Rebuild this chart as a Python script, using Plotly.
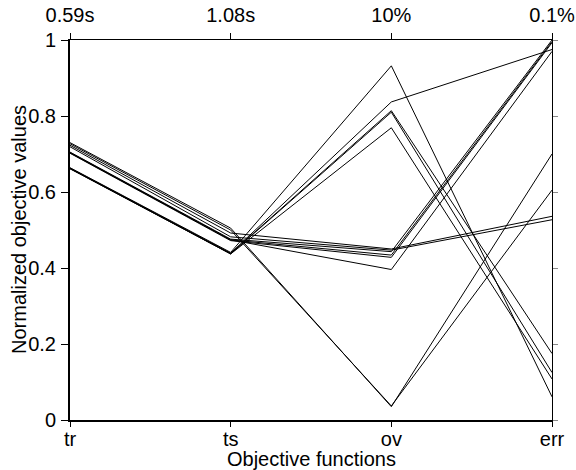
import plotly.graph_objects as go

categories = ["tr", "ts", "ov", "err"]
top_labels = ["0.59s", "1.08s", "10%", "0.1%"]
y_ticks = [0, 0.2, 0.4, 0.6, 0.8, 1]
y_ticktext = ["0", "0.2", "0.4", "0.6", "0.8", "1"]

# normalized objective values for each solution (one entry per line)
tr = [0.730, 0.727, 0.723, 0.719, 0.705, 0.703, 0.702, 0.704, 0.664, 0.663, 0.662, 0.661, 0.662]
ts = [0.505, 0.500, 0.492, 0.482, 0.476, 0.474, 0.472, 0.474, 0.441, 0.439, 0.438, 0.437, 0.437]
ov = [0.035, 0.037, 0.450, 0.447, 0.443, 0.434, 0.428, 0.396, 0.932, 0.837, 0.814, 0.810, 0.769]
err = [0.700, 0.605, 0.536, 0.527, 1.000, 0.996, 0.993, 0.970, 0.061, 0.975, 0.175, 0.125, 0.108]

x_pos = list(range(len(categories)))

fig = go.Figure()
for a, b, c, d in zip(tr, ts, ov, err):
    fig.add_trace(go.Scatter(x=x_pos, y=[a, b, c, d], mode="lines",
                             line=dict(color="black", width=1),
                             showlegend=False, hoverinfo="skip"))

# invisible trace to anchor the secondary axes
fig.add_trace(go.Scatter(x=x_pos, y=[0, 0, 0, 0], xaxis="x2", yaxis="y2",
                         mode="lines", line=dict(width=0), opacity=0,
                         showlegend=False, hoverinfo="skip"))

fam = "Liberation Sans, Arial, sans-serif"
font20 = dict(family=fam, size=20, color="black")

W, H = 576, 470
L, R, T, B = 70, 24, 40, 50
pw, ph = W - L - R, H - T - B

fig.update_layout(
    width=W, height=H,
    margin=dict(l=L, r=R, t=T, b=B, autoexpand=False),
    plot_bgcolor="white", paper_bgcolor="white",
    font=font20,
    xaxis=dict(range=[0, 3], tickvals=x_pos, ticktext=categories,
               ticks="outside", ticklen=5, tickcolor="black",
               showline=True, linecolor="black", linewidth=2,
               showgrid=False, zeroline=False, automargin=False,
               ticklabelstandoff=-5, tickfont=font20),
    xaxis2=dict(range=[0, 3], tickvals=x_pos, ticktext=top_labels,
                overlaying="x", side="top", anchor="y",
                ticks="outside", ticklen=6, tickcolor="black",
                showline=True, linecolor="black", linewidth=1,
                showgrid=False, zeroline=False, automargin=False,
                ticklabelstandoff=3, tickfont=font20),
    yaxis=dict(range=[0, 1], tickvals=y_ticks, ticktext=y_ticktext,
               ticks="outside", ticklen=7, tickcolor="black",
               showline=True, linecolor="black", linewidth=2,
               showgrid=False, zeroline=False, automargin=False,
               ticklabelstandoff=1, tickfont=font20),
    yaxis2=dict(range=[0, 1], tickvals=y_ticks, showticklabels=False,
                overlaying="y", side="right", anchor="x",
                ticks="outside", ticklen=5, tickcolor="#888888",
                showline=True, linecolor="black", linewidth=1,
                showgrid=False, zeroline=False, automargin=False),
    annotations=[
        dict(text="Objective functions", xref="paper", yref="paper",
             x=0.5, y=-(459 - (T + ph)) / ph, xanchor="center", yanchor="middle",
             showarrow=False, font=font20),
        dict(text="Normalized objective values", xref="paper", yref="paper",
             x=(19 - L) / pw, y=0.5, xanchor="center", yanchor="middle",
             textangle=-90, showarrow=False, font=font20),
    ],
)

# remove the default 8px page margin so the figure fills the window exactly
fig.write_html("out.html", config={"displayModeBar": False},
               post_script="document.body.style.margin='0';")
